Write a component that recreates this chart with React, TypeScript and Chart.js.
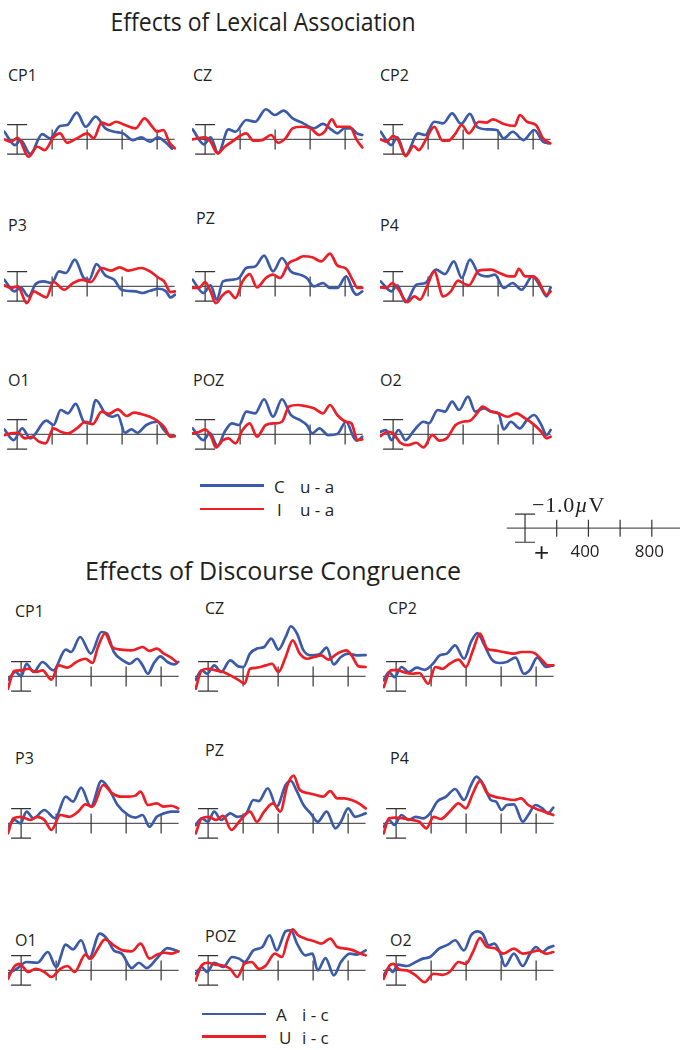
import React, { useEffect, useRef } from "react";
import { Chart, registerables } from "chart.js";
Chart.register(...registerables);

// ---------- DATA: [time (ms), amplitude (µV, negative up)] ----------
// Effects of Lexical Association (blue = C u-a, red = I u-a)
const LA_CP1_BLUE = [[-73,-0.52],[-12,0.39],[20,0.05],[75,1.0],[143,-0.36],[188,-0.07],[245,-0.91],[286,-0.98],[341,-1.82],[392,-0.86],[449,-1.55],[504,-0.75],[555,-0.52],[606,-0.41],[661,0.05],[708,-0.14],[759,0.16],[804,-0.14],[845,0.16],[885,0.64]];
const LA_CP1_RED = [[-73,0],[-37,0.16],[4,-0.11],[65,1.18],[116,0.5],[157,0.73],[208,-0.14],[245,-0.41],[286,0.23],[341,-0.07],[402,-0.41],[437,-0.07],[483,-1.14],[524,-0.98],[565,-1.2],[616,-0.98],[677,-0.75],[728,-1.43],[769,-0.91],[800,-0.52],[836,-0.64],[871,0.23],[902,0.61]];
const LA_CZ_BLUE = [[-71,-0.68],[-6,0.34],[31,-0.14],[75,0.95],[133,-0.68],[173,-0.52],[235,-1.32],[286,-1.2],[347,-2.05],[398,-1.66],[449,-1.95],[500,-1.43],[561,-1.09],[622,-0.75],[673,-1.05],[724,-0.64],[755,-0.41],[796,-0.75],[836,-0.75],[867,-0.41],[898,-0.3]];
const LA_CZ_RED = [[-71,0],[0,-0.14],[31,0.16],[71,0.95],[112,0.5],[153,0.16],[235,-0.41],[275,0.09],[326,0.05],[377,-0.3],[418,0.23],[459,-0.07],[500,-0.75],[551,-0.86],[602,-0.75],[653,-0.3],[683,-0.52],[724,-1.36],[755,-0.86],[826,-0.86],[867,0.05],[898,0.55]];
const LA_CP2_BLUE = [[-71,-0.52],[-10,0.39],[24,-0.14],[71,1.07],[143,-0.41],[184,-0.3],[235,-1.2],[286,-1.09],[337,-1.77],[388,-1.05],[439,-1.73],[479,-0.86],[541,-0.68],[592,-0.64],[632,-0.07],[683,-0.52],[745,0.05],[806,-0.64],[857,0.16],[888,0.27]];
const LA_CP2_RED = [[-71,0],[-37,0.16],[0,-0.23],[31,0.09],[71,1.14],[118,0.45],[147,0.73],[188,0],[235,-0.86],[282,0.09],[316,0.09],[357,-0.41],[392,-0.98],[432,-0.41],[490,-1.2],[530,-1.14],[571,-1.36],[632,-1.05],[694,-0.91],[724,-1.66],[765,-1.2],[816,-0.98],[857,-0.07],[898,0.27]];
const LA_P3_BLUE = [[-73,-0.45],[-16,0.34],[20,0.07],[65,0.68],[106,-0.16],[151,-0.34],[198,-0.23],[239,-1.02],[279,-0.91],[330,-1.82],[381,-0.57],[412,-0.45],[453,-1.52],[504,-0.75],[555,-0.45],[596,0.23],[677,0.34],[718,0.45],[759,0.3],[810,0.16],[851,0.34],[877,0.75],[902,0.57]];
const LA_P3_RED = [[-73,-0.07],[-37,0.11],[4,0],[55,1.14],[96,0.34],[126,0.52],[167,0.75],[208,-0.3],[269,0.23],[320,-0.23],[371,-0.45],[422,-0.3],[483,-1.25],[535,-1.07],[586,-1.3],[637,-1.07],[708,-1.25],[759,-1.02],[810,-0.57],[840,-0.34],[877,0.39],[902,0.34]];
const LA_PZ_BLUE = [[-71,-0.45],[-10,0.45],[31,-0.07],[67,0.91],[102,-0.34],[153,-0.45],[194,-0.57],[235,-1.25],[286,-1.36],[337,-2.09],[388,-1.02],[439,-1.93],[490,-1.02],[541,-0.8],[581,-0.57],[622,0],[673,-0.23],[714,0.11],[755,0.11],[806,-0.68],[847,0.34],[867,0.57],[898,0.34]];
const LA_PZ_RED = [[-71,0.11],[-31,0.07],[0,-0.3],[31,0.34],[61,1.14],[102,0.57],[133,0.34],[173,0.8],[214,-0.34],[255,-0.84],[296,0.07],[347,-0.57],[388,-0.8],[428,-0.57],[479,-1.59],[520,-1.82],[561,-2.05],[612,-1.98],[663,-1.7],[714,-2.23],[755,-1.43],[806,-1.2],[847,-0.34],[871,0.11],[898,0.11]];
const LA_P4_BLUE = [[-71,-0.34],[-10,0.34],[24,-0.07],[71,1.07],[133,-0.11],[184,-0.23],[245,-1.14],[296,-0.84],[347,-1.7],[392,-0.57],[439,-1.82],[490,-0.84],[541,-0.68],[581,-0.8],[632,0.11],[683,-0.23],[734,0.23],[796,-0.68],[841,0],[877,0.68],[900,0.07]];
const LA_P4_RED = [[-71,0.07],[-37,0.11],[-4,-0.23],[31,0.23],[82,1.07],[122,0.68],[153,0.91],[194,0],[235,-1.02],[286,0.68],[330,0.34],[371,-0.39],[408,-0.16],[432,-0.07],[490,-1.07],[561,-1.14],[608,-0.91],[663,-0.68],[694,-0.68],[718,-1.2],[755,-0.68],[800,-0.68],[826,-0.45],[877,0.57],[900,0.34]];
const LA_O1_BLUE = [[-73,-0.34],[-20,0.39],[29,-0.41],[75,0.27],[167,-0.93],[208,-0.64],[249,-1.66],[290,-1.43],[335,-2.07],[381,-0.86],[412,-0.75],[449,-2.34],[504,-1.43],[545,-1.2],[575,-1.32],[616,-0.11],[653,-0.34],[687,-0.11],[738,-0.64],[800,-0.86],[840,-0.3],[881,0.16],[902,0.11]];
const LA_O1_RED = [[-73,0.05],[-37,-0.07],[4,-0.11],[45,0.27],[86,0.16],[126,0.5],[163,0.61],[208,-0.41],[249,-0.18],[290,-0.07],[341,-0.41],[392,-0.86],[432,-0.7],[483,-1.55],[524,-1.39],[575,-1.7],[626,-1.25],[667,-1.48],[708,-1.39],[759,-1.2],[800,-0.93],[840,-0.52],[877,0.16],[902,0.11]];
const LA_POZ_BLUE = [[-71,-0.41],[-10,0.39],[27,-0.11],[71,0.8],[112,-0.18],[153,-0.75],[194,-0.64],[235,-1.55],[286,-1.43],[337,-2.39],[388,-1.2],[439,-2.39],[490,-1.32],[541,-0.98],[581,-0.64],[612,-0.07],[653,-0.41],[704,0.05],[755,-0.02],[806,-0.86],[847,0.16],[867,0.43],[898,0.16]];
const LA_POZ_RED = [[-71,-0.07],[-31,-0.18],[0,-0.34],[35,0.16],[61,0.89],[102,0.39],[133,0.27],[173,0.61],[214,-0.3],[255,-0.75],[296,0.16],[347,-0.64],[398,-0.75],[439,-0.86],[479,-1.89],[530,-2.0],[571,-1.93],[622,-1.77],[673,-1.43],[714,-2.0],[755,-1.32],[806,-0.86],[836,-0.75],[871,0.39],[898,0.34]];
const LA_O2_BLUE = [[-71,-0.18],[-41,-0.3],[-10,0.39],[31,-0.3],[71,0.39],[122,-0.3],[173,-0.86],[204,-0.75],[255,-1.66],[296,-1.55],[337,-2.23],[377,-1.66],[428,-2.57],[469,-1.55],[520,-1.77],[561,-1.55],[602,-1.43],[632,-0.34],[673,-0.86],[724,-0.41],[765,-0.98],[806,-1.32],[847,-0.64],[877,0.05],[900,-0.3]];
const LA_O2_RED = [[-71,0.11],[-31,-0.18],[0,-0.07],[41,0.57],[82,0.73],[133,0.57],[173,0.89],[224,0.05],[265,0.43],[306,0.27],[357,-0.64],[398,-0.86],[439,-0.93],[479,-1.43],[510,-1.89],[561,-1.55],[602,-1.43],[653,-1.2],[704,-1.43],[755,-1.09],[796,-0.75],[847,-0.18],[877,0.27],[900,0.16]];

// Effects of Discourse Congruence (blue = A i-c, red = U i-c)
const DC_CP1_BLUE = [[-75,0.23],[-31,-0.3],[0,0],[31,-0.86],[71,-0.3],[122,-0.98],[184,-0.41],[255,-1.82],[286,-1.66],[337,-2.68],[398,-1.55],[459,-3.02],[490,-2.91],[530,-1.66],[581,-1.09],[622,-0.86],[663,-1.2],[694,-0.75],[724,-0.18],[759,-0.91],[796,-1.36],[836,-0.98],[877,-0.82],[898,-0.98]];
const DC_CP1_RED = [[-75,0.84],[-41,-0.36],[0,-0.41],[41,-0.52],[82,-0.3],[122,-0.41],[173,0.23],[214,-0.75],[265,-0.59],[316,-0.98],[367,-1.2],[408,-0.91],[439,-2.0],[479,-2.91],[520,-2.0],[571,-1.82],[632,-1.77],[694,-2.0],[734,-1.73],[775,-1.89],[816,-1.55],[857,-1.27],[887,-0.98]];
const DC_CZ_BLUE = [[-71,0.23],[-37,-0.41],[-6,-0.18],[35,-0.75],[75,-0.3],[126,-1.09],[173,-0.68],[202,-0.64],[239,-1.55],[279,-1.89],[320,-2.0],[361,-2.57],[402,-1.82],[443,-2.68],[473,-3.41],[508,-2.91],[545,-1.77],[586,-1.43],[636,-1.5],[677,-1.95],[718,-0.82],[759,-1.32],[800,-1.55],[851,-1.43],[900,-1.45]];
const DC_CZ_RED = [[-71,0.84],[-37,-0.41],[4,-0.52],[45,-0.41],[86,-0.3],[137,0],[177,0.27],[208,0.5],[239,-0.52],[279,-0.59],[330,-0.75],[365,-0.86],[402,-0.3],[443,-1.32],[483,-2.45],[524,-1.55],[565,-1.2],[606,-1.32],[647,-1.43],[687,-1.14],[738,-1.55],[790,-1.77],[820,-1.43],[861,-0.68],[900,-0.64]];
const DC_CP2_BLUE = [[-71,0.27],[-41,-0.3],[-10,0.05],[31,-0.64],[71,-0.3],[118,-0.59],[163,-0.45],[214,-0.91],[249,-1.43],[290,-1.55],[337,-2.11],[388,-1.2],[428,-2.34],[465,-2.95],[500,-2.23],[547,-1.14],[592,-0.91],[632,-0.98],[683,-1.27],[730,-0.18],[765,-0.45],[806,-1.27],[857,-0.64],[898,-0.75]];
const DC_CP2_RED = [[-71,0.73],[-31,-0.41],[4,-0.45],[41,-0.3],[92,-0.18],[133,-0.23],[184,0.5],[224,-0.64],[265,-0.52],[306,-0.86],[357,-1.14],[398,-0.64],[439,-1.77],[479,-2.91],[520,-1.89],[561,-1.77],[612,-1.66],[673,-1.55],[718,-1.66],[765,-1.66],[796,-1.55],[836,-1.09],[867,-0.75],[898,-0.75]];
const DC_P3_BLUE = [[-75,0.23],[-37,-0.23],[-4,0],[31,-0.8],[71,-0.34],[133,-0.91],[194,-0.34],[255,-1.82],[296,-1.48],[343,-2.43],[398,-1.14],[459,-2.89],[500,-2.39],[551,-1.25],[612,-0.57],[653,-0.39],[694,-0.57],[734,0.23],[775,-0.45],[816,-0.68],[857,-0.8],[898,-0.8]];
const DC_P3_RED = [[-75,0.68],[-45,-0.34],[0,-0.45],[51,-0.23],[92,-0.45],[133,-0.23],[173,0.45],[224,-0.57],[275,-0.45],[326,-0.8],[367,-1.3],[408,-1.14],[469,-2.61],[520,-2.05],[571,-1.82],[616,-1.82],[653,-1.89],[683,-2.16],[724,-1.25],[775,-1.36],[816,-1.14],[857,-1.2],[898,-1.02]];
const DC_PZ_BLUE = [[-71,0.11],[-37,-0.34],[-2,-0.11],[35,-0.8],[75,-0.23],[126,-0.68],[167,-0.45],[218,-0.68],[259,-1.59],[290,-1.52],[341,-2.39],[392,-1.14],[443,-2.61],[473,-2.89],[504,-2.27],[545,-1.25],[586,-0.68],[626,-0.11],[677,-0.8],[728,0.34],[759,-0.11],[800,-1.02],[840,-0.45],[900,-0.68]];
const DC_PZ_RED = [[-71,0.68],[-37,-0.34],[4,-0.45],[45,-0.23],[86,-0.52],[133,0.45],[177,-0.11],[239,-0.8],[279,-0.11],[320,-0.8],[371,-1.36],[412,-0.8],[453,-2.61],[488,-3.25],[524,-2.27],[575,-2.05],[616,-1.93],[657,-1.82],[698,-2.2],[738,-1.7],[779,-1.7],[820,-1.59],[861,-1.36],[900,-1.02]];
const DC_P4_BLUE = [[-71,0.23],[-41,-0.23],[-10,0.11],[31,-0.57],[71,-0.23],[112,-0.45],[153,-0.34],[194,-0.68],[235,-1.48],[286,-1.82],[337,-2.34],[388,-1.59],[428,-2.61],[459,-3.18],[500,-2.61],[541,-1.59],[571,-1.48],[602,-0.91],[632,-1.25],[673,-1.3],[724,-0.11],[755,-0.57],[796,-1.25],[836,-1.02],[867,-0.68],[898,-1.07]];
const DC_P4_RED = [[-71,0.68],[-41,-0.34],[0,-0.39],[41,-0.34],[92,-0.23],[133,-0.11],[173,0.34],[214,-0.45],[255,-0.3],[306,-0.8],[357,-1.36],[398,-1.02],[439,-2.05],[479,-2.89],[520,-2.05],[561,-1.82],[612,-1.7],[673,-1.59],[714,-1.7],[755,-1.25],[796,-1.02],[847,-0.8],[898,-0.57]];
const DC_O1_BLUE = [[-75,0.23],[-20,-0.16],[31,-0.57],[92,-0.52],[153,-1.25],[200,-0.23],[255,-1.75],[296,-1.43],[343,-2.05],[388,-0.8],[449,-2.5],[490,-2.16],[530,-1.36],[575,-1.14],[632,-0.16],[673,-0.52],[718,-0.16],[775,-0.8],[836,-1.52],[898,-1.3]];
const DC_O1_RED = [[-75,0.57],[-41,-0.23],[-10,-0.45],[41,0.11],[82,-0.11],[133,0.11],[173,0.45],[224,-0.11],[265,-0.3],[306,0.11],[367,-1.07],[398,-0.8],[439,-1.48],[479,-2.11],[530,-1.7],[581,-1.36],[632,-1.3],[683,-1.82],[734,-0.8],[775,-1.07],[816,-1.2],[857,-1.14],[898,-1.3]];
const DC_POZ_BLUE = [[-71,0.23],[-37,-0.23],[-6,0.11],[35,-0.52],[86,-0.23],[137,-0.91],[177,-0.8],[208,-0.57],[259,-1.36],[310,-1.59],[351,-2.39],[392,-1.36],[443,-2.66],[473,-2.73],[508,-1.82],[555,-1.02],[596,-1.14],[626,0],[671,-0.84],[718,0.34],[759,-0.57],[810,-1.14],[851,-1.07],[900,-1.36]];
const DC_POZ_RED = [[-71,0.68],[-37,-0.34],[-2,-0.52],[39,-0.39],[80,-0.34],[126,-0.11],[167,0.45],[208,-0.45],[249,-0.57],[290,-0.11],[330,-0.34],[381,-1.14],[422,-0.91],[453,-2.05],[483,-2.8],[514,-2.39],[555,-2.16],[606,-1.98],[647,-1.82],[698,-2.16],[738,-1.59],[790,-1.48],[830,-1.36],[871,-1.14],[900,-1.02]];
const DC_O2_BLUE = [[-71,0.34],[-41,-0.16],[-20,0.11],[10,-0.39],[61,-0.3],[112,-0.57],[153,-0.8],[194,-0.91],[245,-1.48],[296,-1.75],[337,-2.05],[388,-1.36],[428,-2.39],[465,-2.66],[494,-2.5],[530,-1.7],[561,-1.82],[592,-1.25],[622,-0.3],[673,-1.14],[724,-0.3],[765,-1.14],[800,-1.59],[836,-1.25],[867,-1.52],[898,-1.66]];
const DC_O2_RED = [[-71,0.57],[-37,-0.34],[-16,-0.45],[16,-0.07],[61,0],[112,0.34],[163,0.8],[214,0.23],[265,0.3],[306,0.11],[357,-0.57],[398,-0.45],[439,-1.25],[479,-2.2],[520,-1.59],[561,-1.52],[612,-1.14],[673,-1.48],[724,-1.14],[775,-1.25],[816,-1.36],[857,-1.14],[898,-1.25]];

const TIME_TICKS = [200, 400, 600, 800];
const SCALE_TICK_LABELS = ["400", "800"];
const SCALE_AMP_LABEL = "−1.0";
const TITLE_TOP = "Effects of Lexical Association";
const TITLE_BOTTOM = "Effects of Discourse Congruence";
const ELECTRODES = ["CP1", "CZ", "CP2", "P3", "PZ", "P4", "O1", "POZ", "O2"];
const LA_SERIES = [
  [LA_CP1_BLUE, LA_CP1_RED], [LA_CZ_BLUE, LA_CZ_RED], [LA_CP2_BLUE, LA_CP2_RED],
  [LA_P3_BLUE, LA_P3_RED], [LA_PZ_BLUE, LA_PZ_RED], [LA_P4_BLUE, LA_P4_RED],
  [LA_O1_BLUE, LA_O1_RED], [LA_POZ_BLUE, LA_POZ_RED], [LA_O2_BLUE, LA_O2_RED],
];
const DC_SERIES = [
  [DC_CP1_BLUE, DC_CP1_RED], [DC_CZ_BLUE, DC_CZ_RED], [DC_CP2_BLUE, DC_CP2_RED],
  [DC_P3_BLUE, DC_P3_RED], [DC_PZ_BLUE, DC_PZ_RED], [DC_P4_BLUE, DC_P4_RED],
  [DC_O1_BLUE, DC_O1_RED], [DC_POZ_BLUE, DC_POZ_RED], [DC_O2_BLUE, DC_O2_RED],
];

// ---------- STYLE / LAYOUT ----------
const BLUE = "#3b5aa8";
const RED = "#ec1f27";
const FONT = "'Open Sans', 'Noto Sans', sans-serif";
const PXMS = 0.175;
const UNIT = 14.7;
const XMIN = -75;
const YMIN = -3.7;
const CW = 172;
const CH = 78;
const PAD = 6;

const TOP_COLS = [17, 205, 393];
const TOP_ROWS = [139.3, 286.8, 434.4];
const BOT_COLS = [21.4, 208.2, 396.4];
const BOT_ROWS = [676, 823.3, 970.2];

const TOP_LABEL_POS = [[8, 75], [193, 75], [380, 75], [8, 225], [196, 218], [380, 225], [8, 380], [193, 380], [380, 380]];
const BOT_LABEL_POS = [[15, 611], [205, 608], [388, 608], [15, 758], [205, 750], [390, 758], [15, 940], [205, 936], [390, 940]];

function axesPlugin(cfg: { from: number; to: number; beam: number; tickLen: number; cap: number }) {
  return {
    id: "erpAxes",
    beforeDatasetsDraw(chart: any) {
      const { ctx, scales } = chart;
      const x = scales.x, y = scales.y;
      const y0 = y.getPixelForValue(0);
      ctx.save();
      ctx.lineCap = "butt";
      ctx.strokeStyle = "#5a5a5a";
      ctx.lineWidth = 1.3;
      ctx.beginPath();
      ctx.moveTo(x.getPixelForValue(cfg.from), y0);
      ctx.lineTo(x.getPixelForValue(cfg.to), y0);
      ctx.stroke();
      ctx.strokeStyle = "#333";
      ctx.lineWidth = 1.2;
      ctx.beginPath();
      for (const t of TIME_TICKS) {
        const px = x.getPixelForValue(t);
        ctx.moveTo(px, y0 - cfg.tickLen);
        ctx.lineTo(px, y0 + cfg.tickLen);
      }
      const bx = x.getPixelForValue(0);
      const yt = y.getPixelForValue(-cfg.beam);
      const yb = y.getPixelForValue(cfg.beam);
      ctx.moveTo(bx, yt); ctx.lineTo(bx, yb);
      ctx.moveTo(bx - cfg.cap, yt); ctx.lineTo(bx + cfg.cap, yt);
      ctx.moveTo(bx - cfg.cap, yb); ctx.lineTo(bx + cfg.cap, yb);
      ctx.stroke();
      ctx.restore();
    },
  };
}

function ErpPlot({ ox, oy, blue, red }: { ox: number; oy: number; blue: number[][]; red: number[][] }) {
  const ref = useRef<HTMLCanvasElement>(null);
  const left = Math.round(ox + XMIN * PXMS - PAD);
  const top = Math.round(oy + YMIN * UNIT - PAD);
  useEffect(() => {
    const mk = (d: number[][], c: string) => ({
      data: d.map(([x, y]) => ({ x, y })),
      borderColor: c,
      borderWidth: 2.7,
      pointRadius: 0,
      fill: false,
      cubicInterpolationMode: "monotone" as const,
      borderCapStyle: "round" as const,
      borderJoinStyle: "round" as const,
    });
    const chart = new Chart(ref.current!, {
      type: "line",
      data: { datasets: [mk(red, RED), mk(blue, BLUE)] },
      options: {
        responsive: false,
        animation: false,
        events: [],
        layout: { padding: PAD },
        plugins: { legend: { display: false }, tooltip: { enabled: false } },
        scales: {
          x: { type: "linear", display: false, min: XMIN, max: XMIN + CW / PXMS },
          y: { type: "linear", display: false, reverse: true, min: YMIN, max: YMIN + CH / UNIT },
        },
      },
      plugins: [axesPlugin({ from: -75, to: 900, beam: 1, tickLen: 10, cap: 10 })],
    });
    return () => chart.destroy();
  }, []);
  return (
    <canvas ref={ref} width={CW + 2 * PAD} height={CH + 2 * PAD}
      style={{ position: "absolute", left, top, width: CW + 2 * PAD, height: CH + 2 * PAD }} />
  );
}

function ScaleBar() {
  const ref = useRef<HTMLCanvasElement>(null);
  const px = 0.1585, unit = 14.1, xmin = -120, w = 175, h = 44, pad = 6;
  const ox = 525, oy = 527.7;
  const left = Math.round(ox + xmin * px - pad);
  const top = Math.round(oy - 1.5 * unit - pad);
  useEffect(() => {
    const chart = new Chart(ref.current!, {
      type: "line",
      data: { datasets: [] },
      options: {
        responsive: false,
        animation: false,
        events: [],
        layout: { padding: pad },
        plugins: { legend: { display: false }, tooltip: { enabled: false } },
        scales: {
          x: { type: "linear", display: false, min: xmin, max: xmin + w / px },
          y: { type: "linear", display: false, reverse: true, min: -1.5, max: -1.5 + h / unit },
        },
      },
      plugins: [axesPlugin({ from: -115, to: 978, beam: 1, tickLen: 8.5, cap: 10 })],
    });
    return () => chart.destroy();
  }, []);
  return (
    <canvas ref={ref} width={w + 2 * pad} height={h + 2 * pad}
      style={{ position: "absolute", left, top, width: w + 2 * pad, height: h + 2 * pad }} />
  );
}

const txt = (x: number, y: number, size: number, extra: any = {}) => ({
  position: "absolute" as const, left: x, top: y, transform: "translateY(-50%)",
  fontFamily: FONT, fontSize: size, lineHeight: 1, whiteSpace: "nowrap" as const, color: "#231f20", ...extra,
});

function Legend({ y1, y2, a, b, suffix, x0 }: { y1: number; y2: number; a: string; b: string; suffix: string; x0: number }) {
  return (
    <>
      <div style={{ position: "absolute", left: x0, top: y1 - 1.3, width: 64, height: 2.6, background: BLUE }} />
      <div style={{ position: "absolute", left: x0, top: y2 - 1.3, width: 64, height: 2.6, background: RED }} />
      <div style={txt(x0 + 74, y1, 17)}>{a}</div>
      <div style={txt(x0 + 100, y1, 17)}>{suffix}</div>
      <div style={txt(x0 + 77, y2, 17)}>{b}</div>
      <div style={txt(x0 + 100, y2, 17)}>{suffix}</div>
    </>
  );
}

export default function App() {
  return (
    <div style={{ position: "absolute", left: 0, top: 0, width: 685, height: 1050, overflow: "hidden", background: "#fff" }}>
      <div style={txt(263, 21, 25, { transform: "translate(-50%,-50%) scaleX(0.92)" })}>{TITLE_TOP}</div>
      <div style={txt(273, 570, 25, { transform: "translate(-50%,-50%)" })}>{TITLE_BOTTOM}</div>
      {ELECTRODES.map((e, i) => (
        <div key={"tl" + i} style={txt(TOP_LABEL_POS[i][0], TOP_LABEL_POS[i][1], 16)}>{e}</div>
      ))}
      {ELECTRODES.map((e, i) => (
        <div key={"bl" + i} style={txt(BOT_LABEL_POS[i][0], BOT_LABEL_POS[i][1], 16)}>{e}</div>
      ))}
      {LA_SERIES.map((s, i) => (
        <ErpPlot key={"la" + i} ox={TOP_COLS[i % 3]} oy={TOP_ROWS[Math.floor(i / 3)]} blue={s[0]} red={s[1]} />
      ))}
      {DC_SERIES.map((s, i) => (
        <ErpPlot key={"dc" + i} ox={BOT_COLS[i % 3]} oy={BOT_ROWS[Math.floor(i / 3)]} blue={s[0]} red={s[1]} />
      ))}
      <Legend x0={200} y1={485.7} y2={509} a="C" b="I" suffix="u - a" />
      <Legend x0={202} y1={1014} y2={1036.7} a="A" b="U" suffix="i - c" />
      <ScaleBar />
      <div style={txt(532, 505, 22, { fontFamily: "'Liberation Serif', 'DejaVu Serif', serif", letterSpacing: 0.8 })}>
        {SCALE_AMP_LABEL}<i>µ</i>V
      </div>
      <div style={txt(541.7, 552, 26, { transform: "translate(-50%,-50%)", fontFamily: "'Liberation Sans', sans-serif", fontWeight: 300 })}>+</div>
      <div style={txt(585, 550, 17, { transform: "translate(-50%,-50%)" })}>{SCALE_TICK_LABELS[0]}</div>
      <div style={txt(649.3, 550, 17, { transform: "translate(-50%,-50%)" })}>{SCALE_TICK_LABELS[1]}</div>
    </div>
  );
}
